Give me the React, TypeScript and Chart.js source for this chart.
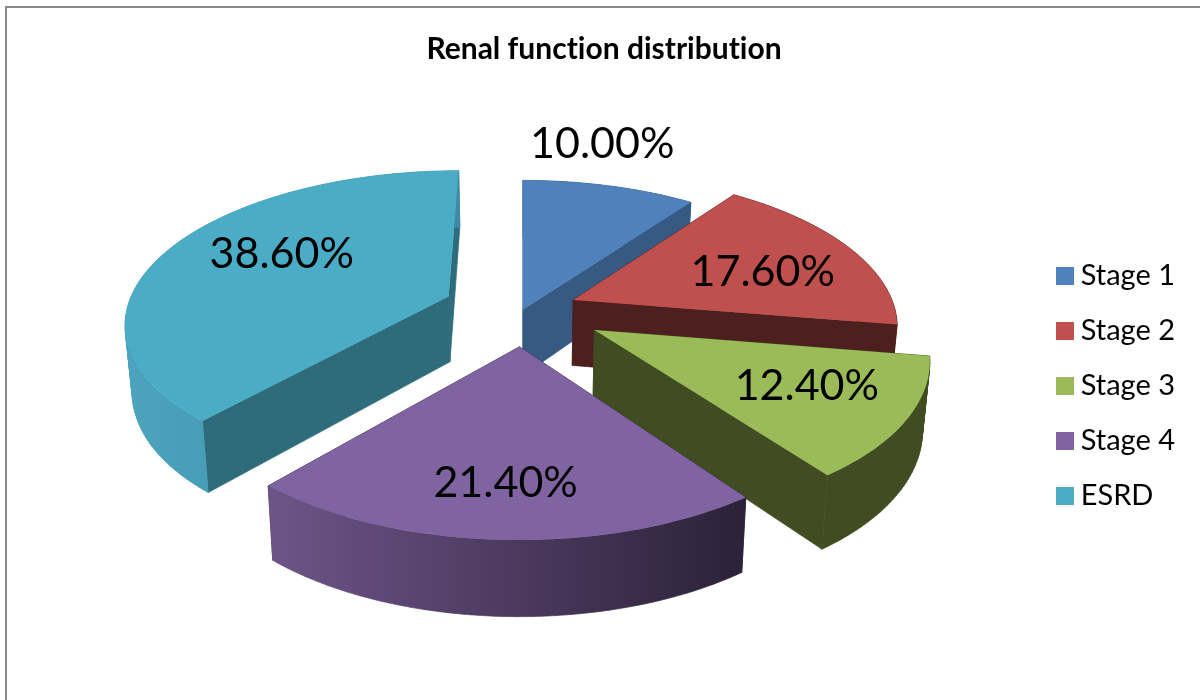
import React, { useEffect, useRef } from "react";
import { Chart, registerables } from "chart.js";

Chart.register(...registerables);

const categories = ["Stage 1", "Stage 2", "Stage 3", "Stage 4", "ESRD"];
const shares = [10.0, 17.6, 12.4, 21.4, 38.6];
const explosionPercent = [0, 17, 25.5, 24, 25];
const topColors = ["#4F81BD", "#C0504D", "#9BBB59", "#8064A2", "#4BACC6"];
const cutColors = ["#375A83", "#4D1F1E", "#414C22", "#3A2D4A", "#2E6B7B"];
const wallFrom = ["#375A83", "#4D1F1E", "#414C22", "#6E5488", "#4BA3BD"];
const wallTo = ["#375A83", "#4D1F1E", "#414C22", "#2B2138", "#3A8BA3"];
const paintOrder = [0, 1, 4, 2, 3];

// Oblique view of the pie plane
const VIEW = { cx: 523, cy: 309.5, r: 322, rk: 149.5, p: 0.158, depth: 66, lean: 0.982 };
// Label placement inside each slice: [fraction of radius, fraction of the slice's sweep]
const LABEL_PLACE = [
  [1.39, 0.345],
  [0.653, 0.56],
  [0.684, 0.433],
  [0.732, 0.503],
  [0.65, 0.567],
];
const LEGEND_SWATCH = 18;

const top = (X: number, Y: number) => {
  const s = 1 / (1 - VIEW.p * Y);
  return [VIEW.cx + VIEW.r * X * s, VIEW.cy + VIEW.rk * Y * s];
};
const bottom = (X: number, Y: number) => {
  const [x, y] = top(X, Y);
  return [VIEW.cx + (x - VIEW.cx) * VIEW.lean, y + VIEW.depth * (1 + 0.13 * Y)];
};

const tracePoly = (ctx: CanvasRenderingContext2D, pts: number[][]) => {
  pts.forEach(([x, y], i) => (i ? ctx.lineTo(x, y) : ctx.moveTo(x, y)));
  ctx.closePath();
};
const paint = (ctx: CanvasRenderingContext2D, fill: any, seal = true) => {
  ctx.fillStyle = fill;
  ctx.fill();
  if (seal) {
    ctx.strokeStyle = fill;
    ctx.lineWidth = 0.7;
    ctx.stroke();
  }
};
const fillPoly = (ctx: CanvasRenderingContext2D, pts: number[][], fill: any, seal = true) => {
  ctx.beginPath();
  tracePoly(ctx, pts);
  paint(ctx, fill, seal);
};
const area = (pts: number[][]) => {
  let a = 0;
  pts.forEach(([x, y], i) => {
    const [u, v] = pts[(i + 1) % pts.length];
    a += x * v - u * y;
  });
  return a;
};

const swatch = (color: string) => {
  const c = document.createElement("canvas");
  c.width = LEGEND_SWATCH;
  c.height = LEGEND_SWATCH;
  const g = c.getContext("2d")!;
  g.fillStyle = color;
  g.fillRect(0, 0, LEGEND_SWATCH, LEGEND_SWATCH);
  return c;
};

const pie3d = {
  id: "pie3d",
  beforeLayout(chart: any) {
    chart.ctx.letterSpacing = "0.001px";
  },
  beforeDraw(chart: any) {
    chart.ctx.letterSpacing = "0.001px";
  },
  beforeDatasetsDraw(chart: any) {
    const ctx: CanvasRenderingContext2D = chart.ctx;
    const arcs = chart.getDatasetMeta(0).data;
    const geom = arcs.map((el: any) => {
      const o = (el.options.offset || 0) / 100;
      const mid = (el.startAngle + el.endAngle) / 2;
      const ax = Math.cos(mid) * o;
      const ay = Math.sin(mid) * o;
      const rim: number[][] = [];
      const n = Math.max(8, Math.ceil((el.endAngle - el.startAngle) / 0.02));
      for (let i = 0; i <= n; i++) {
        const a = el.startAngle + ((el.endAngle - el.startAngle) * i) / n;
        rim.push([ax + Math.cos(a), ay + Math.sin(a)]);
      }
      return { ax, ay, rim };
    });

    paintOrder.forEach((i) => {
      const { ax, ay, rim } = geom[i];
      const t0 = top(ax, ay);
      const b0 = bottom(ax, ay);
      const rimTop = rim.map(([x, y]: number[]) => top(x, y));
      const rimBot = rim.map(([x, y]: number[]) => bottom(x, y));
      const last = rim.length - 1;
      fillPoly(ctx, [t0, rimTop[0], rimBot[0], b0], cutColors[i]);
      fillPoly(ctx, [t0, rimTop[last], rimBot[last], b0], cutColors[i]);
      const xs = rimTop.map((p: number[]) => p[0]);
      const grad = ctx.createLinearGradient(Math.min(...xs), 0, Math.max(...xs), 0);
      grad.addColorStop(0, wallFrom[i]);
      grad.addColorStop(1, wallTo[i]);
      // One path of equally wound quads, so the folded strip has no holes
      ctx.beginPath();
      for (let k = 0; k < last; k++) {
        const q = [rimTop[k], rimTop[k + 1], rimBot[k + 1], rimBot[k]];
        tracePoly(ctx, area(q) >= 0 ? q : q.slice().reverse());
      }
      paint(ctx, grad);
      fillPoly(ctx, [t0, ...rimTop], topColors[i], false);
    });

    ctx.save();
    ctx.fillStyle = "#000";
    ctx.font = "43px Lato";
    ctx.textAlign = "center";
    ctx.textBaseline = "middle";
    arcs.forEach((el: any, i: number) => {
      const [rad, frac] = LABEL_PLACE[i];
      const a = el.startAngle + (el.endAngle - el.startAngle) * frac;
      const g = geom[i];
      const [x, y] = top(g.ax + Math.cos(a) * rad, g.ay + Math.sin(a) * rad);
      ctx.fillText(shares[i].toFixed(2) + "%", x, y + 2);
    });
    ctx.restore();
    return false;
  },
};

export default function App() {
  const ref = useRef<HTMLCanvasElement>(null);
  useEffect(() => {
    document.body.style.margin = "0";
    const swatches = topColors.map(swatch);
    const chart = new Chart(ref.current!, {
      type: "pie",
      data: {
        labels: categories,
        datasets: [
          {
            data: shares,
            backgroundColor: topColors,
            borderWidth: 0,
            offset: explosionPercent,
            pointStyle: swatches,
          },
        ],
      },
      options: {
        responsive: false,
        animation: false,
        devicePixelRatio: 1,
        layout: { padding: { left: 23, top: 31, right: 15, bottom: 0 } },
        plugins: {
          tooltip: { enabled: false },
          title: {
            display: true,
            text: "Renal function distribution",
            color: "#000",
            font: { family: "Lato", size: 30, weight: "bold" },
            padding: { top: 0, bottom: 5 },
          },
          legend: {
            position: "right",
            fullSize: false,
            labels: {
              color: "#000",
              usePointStyle: true,
              pointStyleWidth: 3,
              boxHeight: 18,
              padding: 26,
              font: { family: "Lato", size: 29 },
              generateLabels: (c: any) =>
                categories.map((text, i) => ({
                  text,
                  fillStyle: topColors[i],
                  strokeStyle: topColors[i],
                  lineWidth: 0,
                  pointStyle: swatches[i],
                  hidden: false,
                  index: i,
                })),
            },
          },
        },
      },
      plugins: [pie3d],
    } as any);
    return () => chart.destroy();
  }, []);
  return (
    <div style={{ position: "relative", width: 1200, height: 700, background: "#fff", overflow: "hidden" }}>
      <div
        style={{
          position: "absolute",
          left: 5,
          top: 6,
          right: 0,
          bottom: 0,
          borderLeft: "2px solid #888",
          borderTop: "2px solid #888",
        }}
      />
      <canvas ref={ref} width={1200} height={700} style={{ position: "absolute", left: 0, top: 0 }} />
    </div>
  );
}
